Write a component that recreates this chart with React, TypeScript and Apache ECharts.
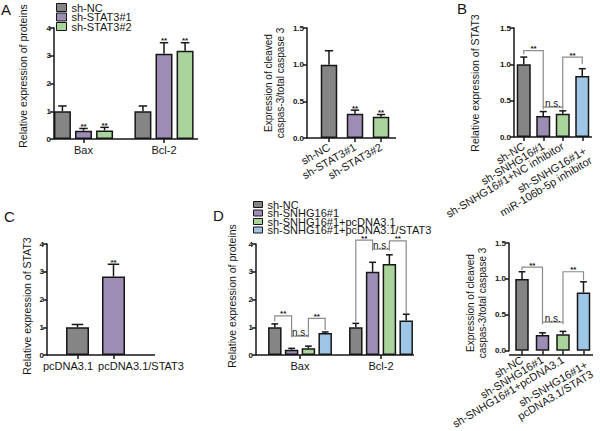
import React, { useEffect, useRef } from 'react';
import * as echarts from 'echarts';

const FONT = "'Liberation Sans', Arial, Helvetica, sans-serif";
const GRAY = '#858585';
const PURPLE = '#9d8db4';
const GREEN = '#a9d59d';
const BLUE = '#9fc6e7';
const INK = '#161616';
const BRACKET = '#8c8c8c';

// ---- Panel A (left): proteins ----
const aCategories = ['Bax', 'Bcl-2'];
const aNames = ['sh-NC', 'sh-STAT3#1', 'sh-STAT3#2'];
const aNcVals = [1.0, 1.0];
const aNcErr = [0.19, 0.19];
const aSh1Vals = [0.3, 3.07];
const aSh1Err = [0.08, 0.4];
const aSh2Vals = [0.31, 3.18];
const aSh2Err = [0.11, 0.29];
const aNcStars = ['', ''];
const aShStars = ['**', '**'];

// ---- Panel A (right): cleaved caspase-3 ----
const casCategories = ['sh-NC', 'sh-STAT3#1', 'sh-STAT3#2'];
const casVals = [1.0, 0.33, 0.29];
const casErr = [0.19, 0.05, 0.03];
const casStars = ['', '**', '**'];

// ---- Panel B: STAT3 ----
const bCategories = ['sh-NC', 'sh-SNHG16#1', 'sh-SNHG16#1+NC inhibitor', 'sh-SNHG16#1+\nmiR-106b-5p inhibitor'];
const bVals = [1.0, 0.29, 0.32, 0.84];
const bErr = [0.1, 0.06, 0.04, 0.1];
// [cat1, sub1, cat2, sub2, top, leftEnd, rightEnd]
const bBrackets = [
  [0, 0, 1, 0, 1.19, 1.14, 0.41],
  [1, 0, 2, 0, 0.41, 0.38, 0.38],
  [2, 0, 3, 0, 1.1, 0.41, 1.0],
];
const bBracketLabels = ['**', 'n.s.', '**'];

// ---- Panel C: STAT3 overexpression ----
const cCategories = ['pcDNA3.1', 'pcDNA3.1/STAT3'];
const cVals = [1.0, 2.83];
const cErr = [0.1, 0.44];
const cStars = ['', '**'];

// ---- Panel D: proteins ----
const dCategories = ['Bax', 'Bcl-2'];
const dNames = ['sh-NC', 'sh-SNHG16#1', 'sh-SNHG16#1+pcDNA3.1', 'sh-SNHG16#1+pcDNA3.1/STAT3'];
const dNcVals = [1.0, 1.0];
const dNcErr = [0.12, 0.14];
const dShVals = [0.19, 3.0];
const dShErr = [0.05, 0.34];
const dPcVals = [0.24, 3.28];
const dPcErr = [0.08, 0.33];
const dStatVals = [0.79, 1.24];
const dStatErr = [0.04, 0.23];
const dBrackets = [
  [0, 0, 0, 1, 1.41, 1.22, 0.68],
  [0, 1, 0, 2, 0.68, 0.64, 0.64],
  [0, 2, 0, 3, 1.32, 0.68, 0.9],
  [1, 0, 1, 1, 4.14, 1.2, 3.81],
  [1, 1, 1, 2, 3.81, 3.76, 3.76],
  [1, 2, 1, 3, 4.11, 3.81, 1.5],
];
const dBracketLabels = ['**', 'n.s.', '**', '**', 'n.s.', '**'];

// ---- Panel D (right): cleaved caspase-3 ----
const eCategories = ['sh-NC', 'sh-SNHG16#1', 'sh-SNHG16#1+pcDNA3.1', 'sh-SNHG16#1+\npcDNA3.1/STAT3'];
const eVals = [1.0, 0.22, 0.23, 0.81];
const eErr = [0.1, 0.03, 0.04, 0.15];
const eBrackets = [
  [0, 0, 1, 0, 1.165, 1.12, 0.4],
  [1, 0, 2, 0, 0.4, 0.37, 0.37],
  [2, 0, 3, 0, 1.1, 0.4, 0.98],
];
const eBracketLabels = ['**', 'n.s.', '**'];

// ---------- layout ----------
const grids = [
  { left: 43.25, top: 28, width: 161, height: 111 },
  { left: 316, top: 28, width: 78, height: 110 },
  { left: 514, top: 28, width: 78, height: 109 },
  { left: 59.5, top: 244, width: 72, height: 111 },
  { left: 259.5, top: 244, width: 162, height: 111 },
  { left: 511.75, top: 243, width: 82, height: 112 },
];
const yOffsets = [-10.75, 9, 0, 12.5, 3.5, 2.75];
const baselines = [
  [54, 198, 139],
  [307, 396, 138],
  [514, 592, 137],
  [47, 155, 355],
  [256, 414, 355],
  [509, 593, 355],
];

function valAxis(gi: number, max: number, interval: number, decimals: number) {
  return {
    type: 'value', gridIndex: gi, min: 0, max, interval, offset: yOffsets[gi],
    axisLine: { show: true, lineStyle: { color: INK, width: 1.5 } },
    axisTick: { show: true, length: 4, lineStyle: { color: INK, width: 1.5 } },
    axisLabel: {
      color: INK, fontFamily: FONT, fontSize: 8, fontWeight: 'bold', margin: 3,
      formatter: (v: number) => v.toFixed(decimals),
    },
    splitLine: { show: false },
  };
}

function catAxis(gi: number, data: string[], rotate: number, extra: any = {}) {
  return {
    type: 'category', gridIndex: gi,
    data: data.map((v) => (v.indexOf('\n') >= 0 ? { value: v, textStyle: { verticalAlign: 'top' } } : v)),
    axisLine: { show: false },
    axisTick: { show: true, alignWithLabel: true, length: 4, lineStyle: { color: INK, width: 1.5 } },
    axisLabel: {
      color: INK, fontFamily: FONT, fontSize: 11, margin: rotate ? 8 : 5, interval: 0, rotate,
      lineHeight: 11, ...extra,
    },
    splitLine: { show: false },
  };
}

function barSeries(name: string, gi: number, vals: number[], colors: string[] | string, barWidth: number, gap: string) {
  return {
    type: 'bar', name, xAxisIndex: gi, yAxisIndex: gi, barWidth, barGap: gap, z: 2,
    data: vals.map((v, i) => ({ value: v, itemStyle: { color: Array.isArray(colors) ? colors[i] : colors } })),
    itemStyle: { color: Array.isArray(colors) ? colors[0] : colors, borderColor: INK, borderWidth: 1.5 },
  };
}

function errorSeries(gi: number, vals: number[], errs: number[], stars: string[], sub: number, nSub: number, barW: number, gap: number) {
  const step = barW * (1 + gap);
  return {
    type: 'custom', xAxisIndex: gi, yAxisIndex: gi, silent: true, clip: false, z: 5,
    data: vals.map((v, i) => [i, v, v + errs[i]]),
    encode: { x: 0, y: [1, 2] },
    renderItem: (params: any, api: any) => {
      const i = api.value(0);
      const base = api.coord([i, api.value(1)]);
      const top = api.coord([i, api.value(2)]);
      const x = base[0] + (sub - (nSub - 1) / 2) * step;
      const cap = barW / 4;
      const st = { stroke: INK, lineWidth: 1.5 };
      const children: any[] = [
        { type: 'line', shape: { x1: x, y1: base[1], x2: x, y2: top[1] }, style: st },
        { type: 'line', shape: { x1: x - cap, y1: top[1], x2: x + cap, y2: top[1] }, style: st },
      ];
      const s = stars[params.dataIndex];
      if (s) {
        children.push({
          type: 'text', x, y: top[1] + 2,
          style: { text: s, align: 'center', verticalAlign: 'bottom', fontSize: 8, fontWeight: 'bold', fontFamily: FONT, fill: INK },
        });
      }
      return { type: 'group', children };
    },
  };
}

function bracketSeries(gi: number, rows: number[][], labels: string[], nSub: number, barW: number, gap: number) {
  const step = barW * (1 + gap);
  return {
    type: 'custom', xAxisIndex: gi, yAxisIndex: gi, silent: true, clip: false, z: 6,
    data: rows,
    encode: { x: 0, y: 4 },
    renderItem: (params: any, api: any) => {
      const px = (cat: number, sub: number, v: number) => {
        const p = api.coord([cat, v]);
        return [p[0] + (sub - (nSub - 1) / 2) * step, p[1]];
      };
      const c1 = api.value(0), s1 = api.value(1), c2 = api.value(2), s2 = api.value(3);
      const top = api.value(4), le = api.value(5), re = api.value(6);
      const L = px(c1, s1, top), R = px(c2, s2, top);
      const Ld = px(c1, s1, le), Rd = px(c2, s2, re);
      const label = labels[params.dataIndex];
      const ns = label === 'n.s.';
      return {
        type: 'group',
        children: [
          { type: 'polyline', shape: { points: [Ld, L, R, Rd] }, style: { stroke: BRACKET, lineWidth: 1.2, fill: null } },
          {
            type: 'text', x: (L[0] + R[0]) / 2, y: L[1] + (ns ? 1 : 2),
            style: {
              text: label, align: 'center', verticalAlign: 'bottom', fill: INK, fontFamily: FONT,
              fontSize: ns ? 10 : 8, fontWeight: ns ? 'normal' : 'bold',
            },
          },
        ],
      };
    },
  };
}

function legendItem(name: string, left: number, top: number, iw: number, ih: number, lh: number) {
  return {
    data: [name], left, top, orient: 'vertical', padding: 0, itemGap: 0,
    itemWidth: iw, itemHeight: ih, icon: 'rect', selectedMode: false,
    textStyle: { fontFamily: FONT, fontSize: 11, color: INK, lineHeight: lh },
    itemStyle: { borderColor: INK, borderWidth: 1 },
  };
}

function vText(text: string, x: number, y: number, size: number, lh = 12) {
  return {
    type: 'text', x, y, rotation: Math.PI / 2,
    style: { text, align: 'center', verticalAlign: 'middle', fontSize: size, fontFamily: FONT, fill: INK, lineHeight: lh },
  };
}

function letter(text: string, x: number, y: number) {
  return {
    type: 'text', x, y,
    style: { text, align: 'left', verticalAlign: 'middle', fontSize: 15, fontFamily: FONT, fill: INK },
  };
}

const A_BW = 17, A_GAP = 0.24;
const D_BW = 13.5, D_GAP = 0.244;

const option: any = {
  animation: false,
  backgroundColor: '#ffffff',
  grid: grids,
  xAxis: [
    catAxis(0, aCategories, 0),
    catAxis(1, casCategories, 30),
    catAxis(2, bCategories, 31),
    catAxis(3, cCategories, 0, {
      formatter: (v: string) => (v === cCategories[0] ? `{l|${v}}` : `{r|${v}}`),
      rich: {
        l: { padding: [0, 19, 0, 0], fontSize: 11, fontFamily: FONT, color: INK },
        r: { padding: [0, 0, 0, 55], fontSize: 11, fontFamily: FONT, color: INK },
      },
    }),
    catAxis(4, dCategories, 0),
    catAxis(5, eCategories, 31),
  ],
  yAxis: [
    valAxis(0, 4, 1, 0),
    valAxis(1, 1.5, 0.5, 1),
    valAxis(2, 1.5, 0.5, 1),
    valAxis(3, 4, 1, 0),
    valAxis(4, 4, 1, 0),
    valAxis(5, 1.5, 0.5, 1),
  ],
  legend: [
    legendItem(aNames[0], 56, 2, 10, 8, 9),
    legendItem(aNames[1], 56, 11.5, 10, 8, 9),
    legendItem(aNames[2], 56, 21, 10, 8, 9),
    legendItem(dNames[0], 253, 199, 9, 6, 8),
    legendItem(dNames[1], 253, 207.5, 9, 6, 8),
    legendItem(dNames[2], 253, 216, 9, 6, 8),
    legendItem(dNames[3], 253, 224.5, 9, 6, 8),
  ],
  series: [
    // A left
    barSeries(aNames[0], 0, aNcVals, GRAY, A_BW, `${A_GAP * 100}%`),
    barSeries(aNames[1], 0, aSh1Vals, PURPLE, A_BW, `${A_GAP * 100}%`),
    barSeries(aNames[2], 0, aSh2Vals, GREEN, A_BW, `${A_GAP * 100}%`),
    errorSeries(0, aNcVals, aNcErr, aNcStars, 0, 3, A_BW, A_GAP),
    errorSeries(0, aSh1Vals, aSh1Err, aShStars, 1, 3, A_BW, A_GAP),
    errorSeries(0, aSh2Vals, aSh2Err, aShStars, 2, 3, A_BW, A_GAP),
    // A right
    barSeries('caspase-3 (STAT3)', 1, casVals, [GRAY, PURPLE, GREEN], 16.5, '0%'),
    errorSeries(1, casVals, casErr, casStars, 0, 1, 16.5, 0),
    // B
    barSeries('STAT3 (B)', 2, bVals, [GRAY, PURPLE, GREEN, BLUE], 14, '0%'),
    errorSeries(2, bVals, bErr, ['', '', '', ''], 0, 1, 14, 0),
    bracketSeries(2, bBrackets, bBracketLabels, 1, 14, 0),
    // C
    barSeries('STAT3 (C)', 3, cVals, [GRAY, PURPLE], 23, '0%'),
    errorSeries(3, cVals, cErr, cStars, 0, 1, 23, 0),
    // D
    barSeries(dNames[0], 4, dNcVals, GRAY, D_BW, `${D_GAP * 100}%`),
    barSeries(dNames[1], 4, dShVals, PURPLE, D_BW, `${D_GAP * 100}%`),
    barSeries(dNames[2], 4, dPcVals, GREEN, D_BW, `${D_GAP * 100}%`),
    barSeries(dNames[3], 4, dStatVals, BLUE, D_BW, `${D_GAP * 100}%`),
    errorSeries(4, dNcVals, dNcErr, ['', ''], 0, 4, D_BW, D_GAP),
    errorSeries(4, dShVals, dShErr, ['', ''], 1, 4, D_BW, D_GAP),
    errorSeries(4, dPcVals, dPcErr, ['', ''], 2, 4, D_BW, D_GAP),
    errorSeries(4, dStatVals, dStatErr, ['', ''], 3, 4, D_BW, D_GAP),
    bracketSeries(4, dBrackets, dBracketLabels, 4, D_BW, D_GAP),
    // D right
    barSeries('caspase-3 (D)', 5, eVals, [GRAY, PURPLE, GREEN, BLUE], 13.5, '0%'),
    errorSeries(5, eVals, eErr, ['', '', '', ''], 0, 1, 13.5, 0),
    bracketSeries(5, eBrackets, eBracketLabels, 1, 13.5, 0),
  ],
  graphic: [
    ...baselines.map(([x1, x2, y]) => ({
      type: 'line', shape: { x1, y1: y, x2, y2: y }, style: { stroke: INK, lineWidth: 1.5 }, z: 10,
    })),
    vText('Relative expression of proteins', 23, 76, 10.5),
    vText('Expression of cleaved\ncaspas-3/total caspase 3', 274, 83, 10, 12),
    vText('Relative expression of STAT3', 475, 83, 10.5),
    vText('Relative expression of STAT3', 27, 306, 10.5),
    vText('Relative expression of proteins', 232, 296, 10.5),
    vText('Expression of cleaved\ncaspas-3/total caspase 3', 476.5, 303, 10, 12),
    letter('A', 1, 9),
    letter('B', 457, 8),
    letter('C', 4, 216),
    letter('D', 213, 215),
  ],
};

export default function App() {
  const ref = useRef<HTMLDivElement>(null);
  useEffect(() => {
    const chart = echarts.init(ref.current!, null, { renderer: 'svg' });
    chart.setOption(option);
    return () => chart.dispose();
  }, []);
  return (
    <div
      ref={ref}
      style={{ position: 'absolute', left: 0, top: 0, width: 600, height: 431, background: '#fff' }}
    />
  );
}
